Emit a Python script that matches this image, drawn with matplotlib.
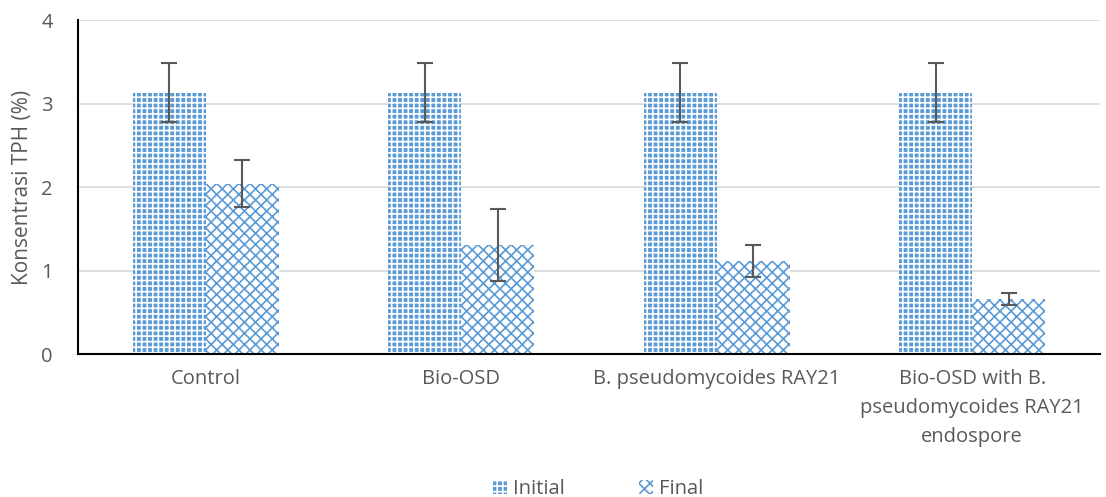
import numpy as np
import matplotlib.pyplot as plt

plt.rcParams['font.family'] = ['Open Sans', 'DejaVu Sans']
plt.rcParams['hatch.linewidth'] = 1.2

categories = ['Control', 'Bio-OSD', 'B. pseudomycoides RAY21',
              'Bio-OSD with B.\npseudomycoides RAY21\nendospore']
initial = [3.13, 3.13, 3.13, 3.13]
initial_err = [0.35, 0.35, 0.35, 0.35]
final = [2.04, 1.31, 1.11, 0.66]
final_err = [0.28, 0.43, 0.19, 0.07]

blue = '#5B9BD5'
grey = '#595959'

fig = plt.figure(figsize=(11.06, 4.97), dpi=100)
ax = fig.add_axes([0.0705, 0.2877, 0.924, 0.672])

x = np.arange(len(categories))
w = 0.286
b1 = ax.bar(x - w / 2, initial, w, color=blue, edgecolor='white', hatch='+++',
            linewidth=0, label='Initial', zorder=2)
b2 = ax.bar(x + w / 2, final, w, color='white', edgecolor=blue, hatch='xxx',
            linewidth=0, label='Final', zorder=2)
ax.errorbar(x - w / 2, initial, yerr=initial_err, fmt='none', ecolor=grey,
            elinewidth=1.5, capsize=6, capthick=1.5, zorder=3)
ax.errorbar(x + w / 2, final, yerr=final_err, fmt='none', ecolor=grey,
            elinewidth=1.5, capsize=6, capthick=1.5, zorder=3)

ax.set_xlim(-0.5, len(categories) - 0.5)
ax.set_ylim(0, 4)
ax.set_yticks([0, 1, 2, 3, 4])
ax.yaxis.grid(True, color='#D9D9D9', linewidth=1.2, zorder=0)
ax.set_axisbelow(True)
ax.set_xticks(x)
ax.set_xticklabels(categories, fontsize=14.5, color=grey, linespacing=1.6)
ax.tick_params(axis='y', length=0, labelsize=14.5, labelcolor=grey, pad=18)
ax.tick_params(axis='x', length=0, labelsize=14.5, labelcolor=grey, pad=11)
ax.set_ylabel('Konsentrasi TPH (%)', fontsize=15, color=grey, labelpad=6)

for s in ['top', 'right']:
    ax.spines[s].set_visible(False)
for s in ['left', 'bottom']:
    ax.spines[s].set_color('black')
    ax.spines[s].set_linewidth(1.5)

fig.legend(handles=[b1, b2], loc='lower center', bbox_to_anchor=(0.541, -0.04),
           ncol=2, frameon=False, fontsize=14.5, handlelength=0.7,
           handleheight=0.7, columnspacing=3.7, handletextpad=0.3,
           labelcolor=grey)

fig.savefig('out.png', dpi=100)
